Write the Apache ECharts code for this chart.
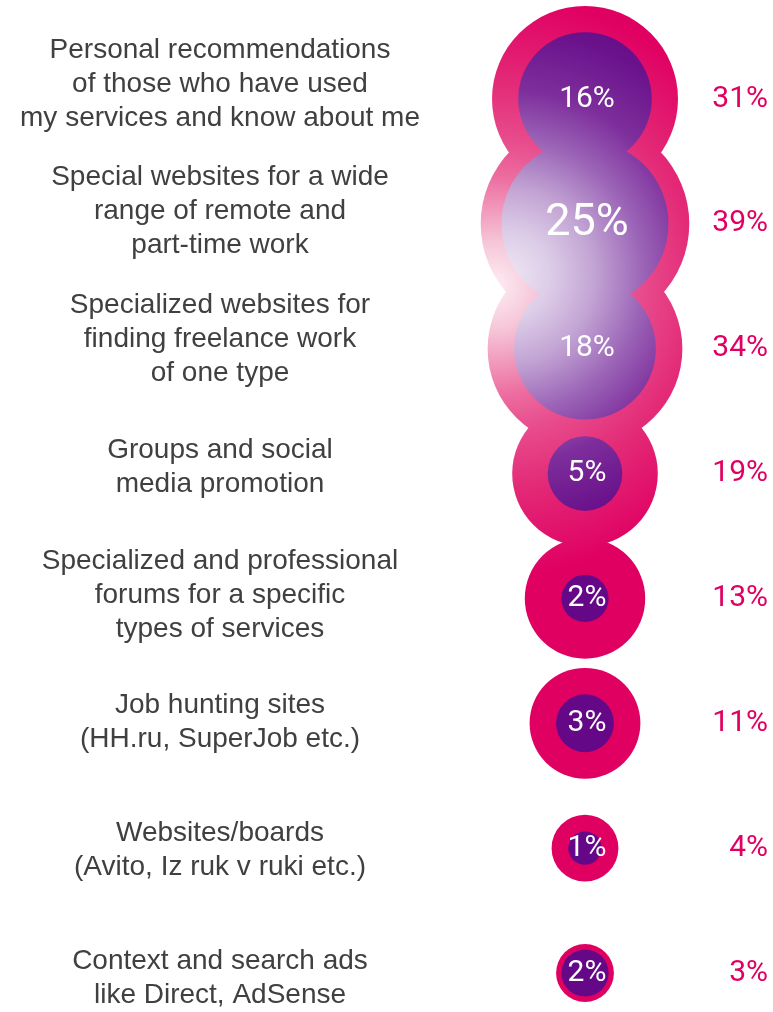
<!DOCTYPE html>
<html>
<head>
<meta charset="utf-8">
<script src="https://cdn.jsdelivr.net/npm/echarts@6/dist/echarts.min.js"></script>
<style>
  html, body { margin: 0; padding: 0; background: #ffffff; }
  #chart { width: 773px; height: 1012px; }
</style>
</head>
<body>
<div id="chart"></div>
<script>
// Channels used to find freelance work
const channels = [
  'Personal recommendations\nof those who have used\nmy services and know about me',
  'Special websites for a wide\nrange of remote and\npart-time work',
  'Specialized websites for\nfinding freelance work\nof one type',
  'Groups and social\nmedia promotion',
  'Specialized and professional\nforums for a specific\ntypes of services',
  'Job hunting sites\n(HH.ru, SuperJob etc.)',
  'Websites/boards\n(Avito, Iz ruk v ruki etc.)',
  'Context and search ads\nlike Direct, AdSense'
];
// Outer ring: share of all respondents using the channel, %
const outerShare = [31, 39, 34, 19, 13, 11, 4, 3];
// Inner circle: share naming it as the main channel, %
const innerShare = [16, 25, 18, 5, 2, 3, 1, 2];

const MAGENTA = '#E00062';
const PURPLE = '#640888';
const NUM_FONT = "Roboto, 'Open Sans', sans-serif";
// bubble area is proportional to the value
const DIAMETER_PER_ROOT = 33.4;
const bubbleSize = v => DIAMETER_PER_ROOT * Math.sqrt(v[2]);

// soft light spot over the upper bubbles, in canvas pixels
const outerGlow = {
  x: 494, y: 286, r: 290,
  stops: [
    [0, '#fdeef4'], [0.15, '#f6c6d8'], [0.38, '#ec6c9f'],
    [0.5, '#e84d8d'], [0.7, '#e32a77'], [1, MAGENTA]
  ]
};
const innerGlow = {
  x: 506, y: 276, r: 290,
  stops: [
    [0, '#eee7f3'], [0.15, '#ddcde8'], [0.3, '#c3a5d4'], [0.48, '#9a62b6'],
    [0.64, '#7e2f9c'], [0.85, '#6a128c'], [1, PURPLE]
  ]
};

// express the shared light spot in one bubble's own box (0..1 units)
function localGlow(glow, cx, cy, diameter) {
  const left = cx - diameter / 2, top = cy - diameter / 2;
  return {
    type: 'radial',
    x: (glow.x - left) / diameter,
    y: (glow.y - top) / diameter,
    r: glow.r / diameter,
    colorStops: glow.stops.map(([offset, color]) => ({ offset, color }))
  };
}

const rowIndex = channels.map((_, i) => i);

const chart = echarts.init(document.getElementById('chart'), null, { renderer: 'canvas' });

const innerData = innerShare.map((v, i) => {
  const item = { value: [0, i, v] };
  if (v === Math.max(...innerShare)) item.label = { fontSize: 45 };
  return item;
});

chart.setOption({
  backgroundColor: '#ffffff',
  animation: false,
  grid: [
    // bubble column with value labels on the right
    { left: 397, right: 0, top: 99, bottom: 39 },
    // channel names
    { left: 440, right: 332, top: 84, bottom: 30 }
  ],
  xAxis: [
    { gridIndex: 0, type: 'category', data: ['share'], show: false },
    { gridIndex: 1, type: 'category', data: ['name'], show: false }
  ],
  yAxis: [
    {
      gridIndex: 0, type: 'category', data: rowIndex, inverse: true,
      boundaryGap: false, show: false
    },
    {
      gridIndex: 0, type: 'category', data: outerShare, inverse: true,
      boundaryGap: false, position: 'right',
      axisLine: { show: false }, axisTick: { show: false }, splitLine: { show: false },
      axisLabel: {
        inside: true, margin: 5, interval: 0,
        formatter: v => v + '%',
        color: MAGENTA, fontSize: 30, fontFamily: NUM_FONT
      }
    },
    {
      gridIndex: 1, type: 'category', data: channels, inverse: true,
      boundaryGap: false,
      axisLine: { show: false }, axisTick: { show: false }, splitLine: { show: false },
      axisLabel: {
        interval: 0, margin: 220, align: 'center',
        color: '#404040', fontSize: 28, lineHeight: 34,
        fontFamily: "'Liberation Sans', Arial, sans-serif"
      }
    }
  ],
  series: [
    {
      name: 'outer',
      type: 'scatter', xAxisIndex: 0, yAxisIndex: 0,
      silent: true, z: 2,
      symbol: 'circle', symbolSize: bubbleSize,
      itemStyle: { color: MAGENTA, opacity: 1 },
      data: outerShare.map((v, i) => ({ value: [0, i, v] }))
    },
    {
      name: 'inner',
      type: 'scatter', xAxisIndex: 0, yAxisIndex: 0,
      silent: true, z: 3,
      symbol: 'circle', symbolSize: bubbleSize,
      itemStyle: { color: PURPLE, opacity: 1 },
      label: {
        show: true, position: 'inside', offset: [2, 0],
        formatter: p => p.value[2] + '%',
        color: '#ffffff', fontSize: 30, fontFamily: NUM_FONT
      },
      data: innerData
    }
  ]
});

// once the axes are laid out, shade each bubble from the common light spot
function shade(values, glow) {
  return values.map((v, i) => {
    const [cx, cy] = chart.convertToPixel({ seriesIndex: 0 }, [0, i]);
    const d = bubbleSize([0, i, v]);
    return { itemStyle: { color: localGlow(glow, cx, cy, d) } };
  });
}
const outerShade = shade(outerShare, outerGlow);
const innerShade = shade(innerShare, innerGlow);
chart.setOption({
  series: [
    { data: outerShare.map((v, i) => Object.assign({ value: [0, i, v] }, outerShade[i])) },
    { data: innerData.map((item, i) => Object.assign({}, item, innerShade[i])) }
  ]
});
</script>
</body>
</html>
